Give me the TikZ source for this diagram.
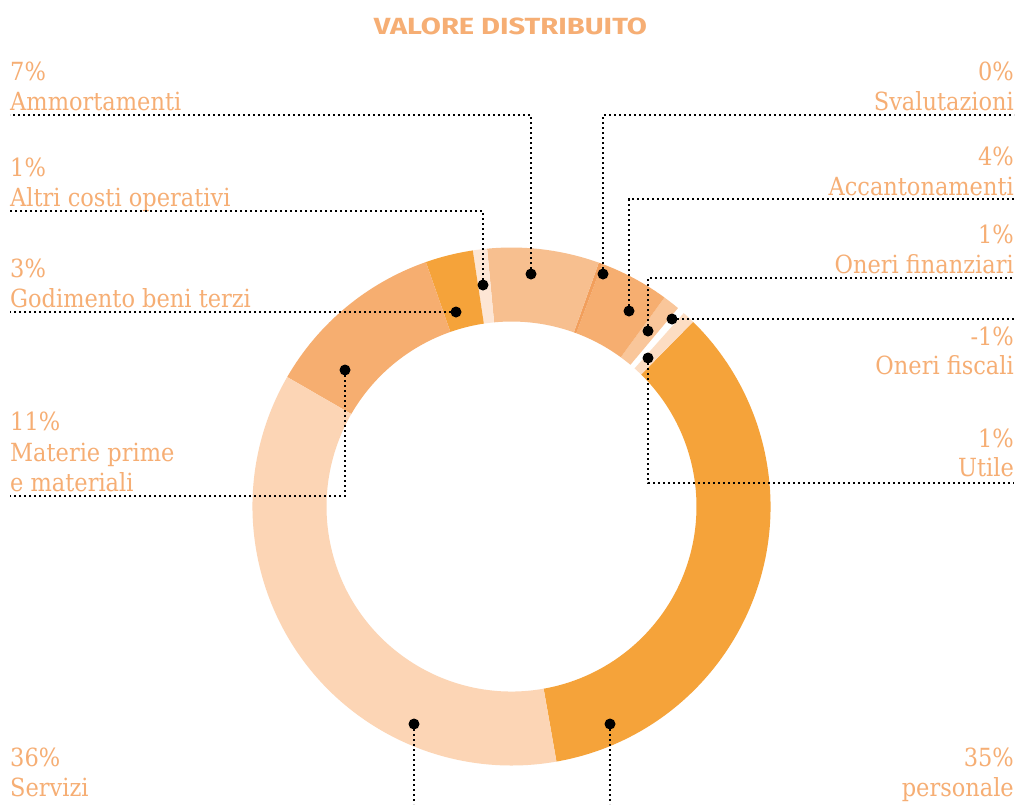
\documentclass[tikz,border=0pt]{standalone}
\usepackage{fontspec}
\setsansfont{Fira Sans}
\newfontfamily\lblfont{DejaVu Serif}
\definecolor{txt}{HTML}{F6AE74}
\definecolor{cPer}{HTML}{F5A33A}
\definecolor{cSer}{HTML}{FCD5B5}
\definecolor{cMat}{HTML}{F6AE70}
\definecolor{cGod}{HTML}{F5A33A}
\definecolor{cAlt}{HTML}{FDE6D5}
\definecolor{cAmm}{HTML}{F7BF8F}
\definecolor{cSva}{HTML}{F29F5C}
\definecolor{cAcc}{HTML}{F6AE70}
\definecolor{cOFin}{HTML}{F9C69A}
\definecolor{cUti}{HTML}{FCDDC3}
\newcommand\donutseg[3]{\fill[#3] (#1:259) arc[start angle=#1, end angle=#2, radius=259] -- (#2:185) arc[start angle=#2, end angle=#1, radius=185] -- cycle;}
\newcommand\lbltext[1]{\scalebox{0.9}[1]{#1}}
\begin{document}
\begin{tikzpicture}[x=1pt,y=-1pt,
 lbl/.style={text=txt, inner sep=0pt, font=\lblfont\fontsize{25}{30}\selectfont},
 lft/.style={lbl, anchor=base west},
 rgt/.style={lbl, anchor=base east},
 dotline/.style={draw=black, line width=2.2pt, dash pattern=on 2.2pt off 2.8pt},
 pin/.style={circle, fill=black, inner sep=0pt, minimum size=11pt}]
\useasboundingbox (0,0) rectangle (1017,804);
\fill[white] (0,0) rectangle (1017,804);

% donut
\begin{scope}[shift={(511.5,506.5)}, x=1pt, y=1pt]
\donutseg{-80}{45.5}{cPer}
\donutseg{45.5}{48.3}{cUti}
\donutseg{50}{53.8}{cOFin}
\donutseg{53.8}{69.5}{cAcc}
\donutseg{69.5}{70.3}{cSva}
\donutseg{70.3}{95.4}{cAmm}
\donutseg{95.4}{98.6}{cAlt}
\donutseg{98.6}{109.3}{cGod}
\donutseg{109.3}{150}{cMat}
\donutseg{150}{280}{cSer}
\end{scope}

% title
\node[anchor=base, text=txt, inner sep=0pt] (title) at (510.5,34)
  {\resizebox{273pt}{16.6pt}{\sffamily\bfseries VALORE DISTRIBUITO}};

% labels left
\node[lft] (pAmm) at (10,80) {\lbltext{7\%}};
\node[lft] (nAmm) at (10,110) {\lbltext{Ammortamenti}};
\node[lft] (pAlt) at (10,176) {\lbltext{1\%}};
\node[lft] (nAlt) at (10,206) {\lbltext{Altri costi operativi}};
\node[lft] (pGod) at (10,277) {\lbltext{3\%}};
\node[lft] (nGod) at (10,307) {\lbltext{Godimento beni terzi}};
\node[lft] (pMat) at (10,430) {\lbltext{11\%}};
\node[lft] (nMat) at (10,461) {\lbltext{Materie prime}};
\node[lft] (nMat2) at (10,491) {\lbltext{e materiali}};
\node[lft] (pSer) at (10,766) {\lbltext{36\%}};
\node[lft] (nSer) at (10,796) {\lbltext{Servizi}};
% labels right
\node[rgt] (pSva) at (1014,80) {\lbltext{0\%}};
\node[rgt] (nSva) at (1014,110) {\lbltext{Svalutazioni}};
\node[rgt] (pAcc) at (1014,165) {\lbltext{4\%}};
\node[rgt] (nAcc) at (1014,195) {\lbltext{Accantonamenti}};
\node[rgt] (pOFin) at (1014,243) {\lbltext{1\%}};
\node[rgt] (nOFin) at (1014,273) {\lbltext{Oneri finanziari}};
\node[rgt] (pOFis) at (1014,345) {\lbltext{-1\%}};
\node[rgt] (nOFis) at (1014,374) {\lbltext{Oneri fiscali}};
\node[rgt] (pUti) at (1014,447) {\lbltext{1\%}};
\node[rgt] (nUti) at (1014,476) {\lbltext{Utile}};
\node[rgt] (pPer) at (1014,766) {\lbltext{35\%}};
\node[rgt] (nPer) at (1014,796) {\lbltext{personale}};

% pin coordinates
\coordinate (cAmm) at (531,274);
\coordinate (cSva) at (603,274);
\coordinate (cAlt) at (483,285);
\coordinate (cAcc) at (629,311);
\coordinate (cOFin) at (648,331);
\coordinate (cOFis) at (672,319);
\coordinate (cUti) at (648,358);
\coordinate (cGod) at (456,312);
\coordinate (cMat) at (345,370);
\coordinate (cSer) at (414,724);
\coordinate (cPer) at (610,724);
% free ends
\coordinate (eAmm) at (10,115);
\coordinate (eSva) at (1014,115);
\coordinate (eAlt) at (10,211);
\coordinate (eAcc) at (1014,199);
\coordinate (eOFin) at (1014,278);
\coordinate (eOFis) at (1014,319);
\coordinate (eUti) at (1014,483);
\coordinate (eGod) at (10,312);
\coordinate (eMat) at (10,496);
\coordinate (eSer) at (414,804);
\coordinate (ePer) at (610,804);

% connectors
\draw[dotline] (cAmm) |- (eAmm);
\draw[dotline] (cSva) |- (eSva);
\draw[dotline] (cAlt) |- (eAlt);
\draw[dotline] (cAcc) |- (eAcc);
\draw[dotline] (cOFin) |- (eOFin);
\draw[dotline] (cOFis) -- (eOFis);
\draw[dotline] (cUti) |- (eUti);
\draw[dotline] (cGod) -- (eGod);
\draw[dotline] (cMat) |- (eMat);
\draw[dotline] (cSer) -- (eSer);
\draw[dotline] (cPer) -- (ePer);

% pins
\foreach \n in {Amm,Sva,Alt,Acc,OFin,OFis,Uti,God,Mat,Ser,Per}
  \node[pin] (dot\n) at (c\n) {};
\end{tikzpicture}
\end{document}
